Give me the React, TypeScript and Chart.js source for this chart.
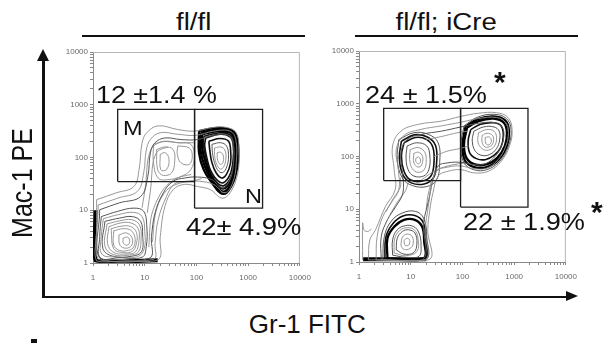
import React, { useEffect, useRef } from "react";
import { Chart, registerables } from "chart.js";

Chart.register(...registerables);

// ---------- axis ticks (log fluorescence) ----------
const DECADE_TICKS = [1, 10, 100, 1000, 10000];
const MINOR_MULTIPLIERS = [1, 2, 3, 4, 5, 6, 7, 8, 9];

// ---------- panel titles / axis titles ----------
const PANEL_TITLES = ["fl/fl", "fl/fl; iCre"];
const X_TITLE = "Gr-1 FITC";
const Y_TITLE = "Mac-1 PE";

// ---------- gates [xMin, yMin, xMax, yMax] in fluorescence units ----------
const P1_GATE_M = [3, 35, 92, 820];
const P1_GATE_N = [92, 11, 1900, 820];
const P2_GATE_M = [3, 35, 92, 820];
const P2_GATE_N = [92, 11, 1850, 820];

// ---------- gate percentages ----------
const P1_PCT_M = "12 ±1.4 %";
const P1_PCT_N = "42± 4.9%";
const P2_PCT_M = "24 ± 1.5%";
const P2_PCT_N = "22 ± 1.9%";
const GATE_NAMES = ["M", "N"];

// ---------- contour lines, as [log10 Gr-1, log10 Mac-1] ----------
// Panel 1 (fl/fl)
const P1_E1 = [[.07,1.2],[.45,1.33],[.79,1.45],[.89,1.77],[.95,2.28],[1.04,2.47],[1.26,2.6],[1.64,2.53],[1.96,2.5],[2.33,2.57],[2.58,2.57],[2.77,2.47],[2.82,2.15],[2.80,1.71],[2.65,1.33],[2.49,1.23],[2.27,1.39],[2.02,1.45],[1.77,1.49],[1.55,1.39],[1.39,1.07],[1.30,.50],[1.26,.06],[.64,.04],[.07,.04],[.07,.63]];
const P1_E2 = [[.10,1.10],[.48,1.23],[.86,1.36],[.98,1.71],[1.03,2.14],[1.11,2.34],[1.30,2.47],[1.64,2.44],[1.99,2.42],[2.33,2.50],[2.65,2.50],[2.76,2.34],[2.77,1.90],[2.70,1.52],[2.55,1.33],[2.33,1.49],[2.05,1.55],[1.80,1.55],[1.58,1.50],[1.42,1.26],[1.26,.82],[1.20,.37],[1.17,.07],[.10,.07]];
const P1_E3 = [[.13,1.01],[.51,1.14],[.92,1.26],[1.06,1.64],[1.11,2.09],[1.20,2.28],[1.39,2.37],[1.70,2.34],[2.02,2.34],[2.33,2.42],[2.62,2.42],[2.71,2.25],[2.71,1.83],[2.62,1.52],[2.49,1.42],[2.30,1.58],[2.02,1.63],[1.77,1.61],[1.55,1.55],[1.36,1.33],[1.20,.95],[1.13,.50],[1.09,.09],[.13,.09]];
const P1_S1 = [[.95,1.05],[1.02,1.5],[1.06,1.95],[1.15,2.2],[1.35,2.3],[1.65,2.28],[1.95,2.28]];
const P1_S2 = [[1.05,.95],[1.12,1.45],[1.16,1.9],[1.25,2.12],[1.45,2.2]];
const P1_S3 = [[1.15,.4],[1.2,.9],[1.3,1.2],[1.47,1.42],[1.7,1.52],[1.95,1.56],[2.1,1.6]];
const P1_S4 = [[1.08,.3],[1.12,.85],[1.22,1.15],[1.38,1.42],[1.6,1.6],[1.9,1.68]];
const P1_LA = [[.16,.88],[.48,.98],[.79,1.04],[.98,.98],[1.04,.69],[1.03,.31],[.95,.11],[.51,.10],[.14,.10],[.13,.50]];
const P1_LA2 = [[.2,.84],[.5,.92],[.78,.96],[.95,.88],[1.0,.6],[.99,.27],[.86,.12],[.45,.115],[.17,.17],[.16,.5]];
const P1_LB = [[.23,.79],[.51,.85],[.76,.88],[.92,.79],[.96,.53],[.94,.22],[.76,.13],[.38,.13],[.19,.28]];
const P1_LB2 = [[.27,.74],[.52,.80],[.75,.82],[.9,.72],[.93,.48],[.88,.21],[.7,.15],[.39,.16],[.23,.32]];
const P1_LC = [[.31,.69],[.54,.76],[.73,.76],[.87,.66],[.89,.43],[.82,.21],[.64,.17],[.40,.20],[.28,.37]];
const P1_LC2 = [[.35,.65],[.56,.7],[.73,.69],[.84,.58],[.84,.37],[.76,.22],[.57,.2],[.4,.27]];
const P1_LD = [[.40,.61],[.58,.65],[.73,.62],[.81,.49],[.79,.31],[.69,.24],[.51,.24],[.40,.34]];
const P1_LE = [[.50,.53],[.64,.57],[.75,.49],[.75,.34],[.64,.28],[.52,.34]];
const P1_LF = [[.58,.47],[.67,.49],[.71,.41],[.67,.34],[.59,.37]];
const P1_PILE = [[.05,1.0],[.05,.05],[1.25,.05]];
const P1_M1 = [[1.17,2.25],[1.39,2.31],[1.64,2.28],[1.89,2.25],[1.96,2.03],[1.89,1.77],[1.70,1.64],[1.45,1.58],[1.26,1.61],[1.17,1.90]];
const P1_M2 = [[1.23,2.15],[1.39,2.20],[1.55,2.15],[1.58,1.93],[1.52,1.71],[1.36,1.66],[1.25,1.77]];
const P1_M3 = [[1.64,2.22],[1.86,2.18],[1.92,2.03],[1.86,1.87],[1.70,1.90],[1.63,2.06]];
const P1_M4 = [[1.30,2.06],[1.40,2.09],[1.47,1.96],[1.42,1.77],[1.31,1.77]];
const P1_N1 = [[2.05,2.50],[2.40,2.56],[2.65,2.53],[2.77,2.41],[2.81,2.03],[2.74,1.61],[2.58,1.33],[2.46,1.33],[2.30,1.52],[2.14,1.77],[2.05,2.09]];
const P1_N1B = [[2.08,2.47],[2.41,2.53],[2.65,2.50],[2.76,2.38],[2.79,2.01],[2.72,1.62],[2.57,1.37],[2.44,1.39],[2.29,1.58],[2.16,1.83],[2.08,2.13]];
const P1_N2 = [[2.11,2.44],[2.43,2.50],[2.65,2.47],[2.74,2.34],[2.76,1.99],[2.70,1.64],[2.55,1.42],[2.43,1.45],[2.28,1.64],[2.18,1.90],[2.11,2.18]];
const P1_N2B = [[2.14,2.40],[2.44,2.47],[2.65,2.43],[2.73,2.30],[2.74,1.97],[2.68,1.66],[2.54,1.47],[2.41,1.51],[2.28,1.69],[2.2,1.93],[2.14,2.2]];
const P1_N3 = [[2.18,2.37],[2.46,2.44],[2.65,2.39],[2.71,2.25],[2.71,1.96],[2.65,1.68],[2.52,1.52],[2.40,1.57],[2.28,1.74],[2.21,1.96],[2.16,2.22]];
const P1_N4 = [[2.24,2.31],[2.46,2.36],[2.62,2.31],[2.66,2.15],[2.66,1.90],[2.58,1.68],[2.49,1.61],[2.38,1.71],[2.30,1.90],[2.26,2.12]];
const P1_N5 = [[2.30,2.25],[2.47,2.28],[2.58,2.22],[2.62,2.06],[2.60,1.87],[2.52,1.72],[2.43,1.74],[2.35,1.90],[2.31,2.09]];
const P1_N6 = [[2.35,2.18],[2.47,2.20],[2.55,2.14],[2.57,1.99],[2.53,1.83],[2.46,1.78],[2.38,1.90],[2.35,2.06]];
const P1_N7 = [[2.40,2.09],[2.47,2.10],[2.52,2.03],[2.51,1.90],[2.46,1.87],[2.41,1.95]];

// Panel 2 (fl/fl; iCre)
const P2_E1 = [[.18,.04],[.21,.42],[.32,.61],[.51,1.05],[.70,1.37],[.68,1.75],[.65,2.2],[.81,2.48],[1.15,2.61],[1.59,2.67],[1.97,2.76],[2.31,2.82],[2.66,2.83],[2.88,2.74],[2.96,2.51],[2.91,2.2],[2.75,1.91],[2.5,1.72],[2.22,1.69],[1.97,1.75],[1.72,1.72],[1.53,1.63],[1.43,1.31],[1.37,.99],[1.33,.61],[1.35,.04]];
const P2_E2 = [[.33,.04],[.35,.48],[.46,.86],[.62,1.12],[.77,1.37],[.76,1.75],[.72,2.13],[.87,2.40],[1.18,2.51],[1.59,2.58],[1.97,2.65],[2.31,2.72],[2.66,2.74],[2.84,2.64],[2.89,2.45],[2.84,2.20],[2.69,1.94],[2.47,1.78],[2.22,1.77],[1.97,1.82],[1.72,1.80],[1.50,1.72],[1.40,1.43],[1.34,1.05],[1.28,.61],[1.28,.04]];
const P2_E3 = [[.43,.04],[.43,.48],[.55,.80],[.71,1.05],[.85,1.31],[.84,1.69],[.81,2.07],[.93,2.32],[1.21,2.42],[1.59,2.48],[1.97,2.56],[2.31,2.63],[2.63,2.64],[2.77,2.55],[2.80,2.39],[2.74,2.17],[2.60,1.97],[2.41,1.85],[2.19,1.85],[1.97,1.89],[1.72,1.88],[1.53,1.82],[1.43,1.56],[1.35,1.18],[1.25,.74],[1.23,.04]];
const P2_S1 = [[.6,.9],[.75,1.15],[.9,1.35],[.95,1.5]];
const P2_S2 = [[1.3,1.0],[1.33,1.25],[1.38,1.45],[1.4,1.55]];
const P2_S3 = [[.52,.95],[.66,1.2],[.8,1.42],[.8,1.6]];
const P2_S4 = [[1.2,1.55],[1.5,1.75],[1.8,1.84],[2.05,1.88]];
const P2_S5 = [[1.3,2.32],[1.6,2.38],[1.9,2.45],[2.1,2.48]];
const P2_S6 = [[1.45,2.0],[1.7,2.1],[1.95,2.15],[2.12,2.2]];
const P2_OUT = [[.07,.04],[.07,.74],[.10,.60],[.17,.58],[.24,.62]];
const P2_LA = [[.46,.04],[.49,.48],[.62,.77],[.84,.93],[1.09,.96],[1.25,.83],[1.31,.48],[1.29,.04]];
const P2_LA2 = [[.5,.05],[.52,.47],[.65,.72],[.85,.87],[1.08,.88],[1.24,.75],[1.29,.44],[1.27,.05]];
const P2_LB = [[.55,.07],[.55,.45],[.68,.67],[.87,.80],[1.08,.80],[1.22,.67],[1.26,.39],[1.25,.07]];
const P2_LC = [[.65,.13],[.65,.42],[.74,.61],[.90,.69],[1.06,.67],[1.16,.55],[1.20,.32],[1.16,.11],[.90,.09]];
const P2_LC2 = [[.68,.17],[.69,.44],[.79,.6],[.93,.65],[1.07,.61],[1.14,.45],[1.12,.2],[.9,.12]];
const P2_LD = [[.72,.23],[.74,.45],[.84,.58],[.96,.61],[1.08,.55],[1.12,.36],[1.06,.18],[.87,.15]];
const P2_LE = [[.81,.32],[.84,.47],[.93,.53],[1.03,.48],[1.04,.32],[.95,.24],[.85,.25]];
const P2_LF = [[.87,.41],[.93,.45],[.98,.41],[.96,.32],[.89,.32]];
const P2_PILE = [[.08,.05],[1.3,.05]];
const P2_MA = [[.77,2.32],[1.06,2.45],[1.34,2.42],[1.53,2.26],[1.56,1.88],[1.50,1.56],[1.31,1.43],[1.03,1.45],[.84,1.59],[.74,1.94]];
const P2_MA2 = [[.82,2.29],[1.07,2.41],[1.32,2.37],[1.48,2.21],[1.5,1.88],[1.44,1.6],[1.26,1.48],[1.01,1.5],[.85,1.65],[.78,1.97]];
const P2_MB = [[.87,2.26],[1.09,2.36],[1.31,2.32],[1.43,2.17],[1.45,1.88],[1.39,1.63],[1.21,1.53],[.99,1.56],[.87,1.72],[.82,2.01]];
const P2_MC = [[.93,2.20],[1.12,2.26],[1.31,2.20],[1.37,2.01],[1.35,1.75],[1.25,1.63],[1.06,1.63],[.95,1.75],[.91,1.97]];
const P2_MD = [[.99,2.13],[1.14,2.17],[1.26,2.10],[1.30,1.94],[1.26,1.75],[1.14,1.70],[1.03,1.77],[.98,1.94]];
const P2_ME = [[1.06,2.06],[1.15,2.08],[1.23,2.00],[1.21,1.84],[1.14,1.80],[1.06,1.88]];
const P2_MF = [[1.10,1.97],[1.16,1.99],[1.19,1.91],[1.15,1.86],[1.10,1.90]];
const P2_NA = [[2.03,2.58],[2.28,2.74],[2.60,2.80],[2.85,2.72],[2.94,2.51],[2.89,2.20],[2.72,1.91],[2.47,1.75],[2.22,1.75],[2.03,1.88],[1.97,2.20]];
const P2_NA2 = [[2.06,2.57],[2.3,2.71],[2.6,2.76],[2.83,2.68],[2.9,2.48],[2.86,2.2],[2.7,1.94],[2.47,1.8],[2.23,1.8],[2.05,1.92],[2.0,2.21]];
const P2_NB = [[2.09,2.55],[2.31,2.67],[2.60,2.72],[2.80,2.64],[2.86,2.45],[2.82,2.20],[2.67,1.97],[2.46,1.85],[2.24,1.85],[2.08,1.97],[2.03,2.23]];
const P2_NC = [[2.16,2.51],[2.35,2.61],[2.60,2.64],[2.75,2.58],[2.79,2.39],[2.74,2.17],[2.61,2.02],[2.44,1.94],[2.27,1.96],[2.14,2.07],[2.11,2.29]];
const P2_ND = [[2.22,2.48],[2.41,2.56],[2.61,2.56],[2.71,2.48],[2.72,2.32],[2.66,2.15],[2.53,2.04],[2.38,2.02],[2.25,2.10],[2.19,2.29]];
const P2_NE = [[2.31,2.45],[2.47,2.51],[2.61,2.48],[2.66,2.36],[2.62,2.20],[2.50,2.12],[2.38,2.15],[2.30,2.27]];
const P2_NF = [[2.38,2.40],[2.48,2.44],[2.58,2.40],[2.60,2.29],[2.55,2.20],[2.44,2.18],[2.38,2.27]];
const P2_NG = [[2.44,2.36],[2.52,2.37],[2.56,2.29],[2.51,2.22],[2.45,2.25]];

// ---------- styling (kept apart from the data) ----------
const TONES: Record<string, { color: string; width: number }> = {
  light: { color: "#8c8c8c", width: 0.9 },
  mid: { color: "#555555", width: 1 },
  dark: { color: "#111111", width: 1.6 },
  heavy: { color: "#000000", width: 2.3 },
  pile: { color: "#000000", width: 4 },
};

type Layer = [number[][], string, boolean];

const P1_LAYERS: Layer[] = [
  [P1_E1, "light", true], [P1_E2, "light", true], [P1_E3, "mid", true],
  [P1_S1, "light", false], [P1_S2, "light", false], [P1_S3, "light", false], [P1_S4, "light", false],
  [P1_LA, "mid", true], [P1_LA2, "light", true], [P1_LB, "mid", true], [P1_LB2, "light", true],
  [P1_LC, "light", true], [P1_LC2, "light", true],
  [P1_LD, "light", true], [P1_LE, "light", true], [P1_LF, "light", true],
  [P1_PILE, "pile", false],
  [P1_M1, "light", true], [P1_M2, "light", true], [P1_M3, "light", true], [P1_M4, "light", true],
  [P1_N1, "heavy", true], [P1_N1B, "heavy", true], [P1_N2, "heavy", true], [P1_N2B, "dark", true],
  [P1_N3, "dark", true], [P1_N4, "dark", true], [P1_N5, "mid", true], [P1_N6, "light", true], [P1_N7, "light", true],
];

const P2_LAYERS: Layer[] = [
  [P2_E1, "light", true], [P2_E2, "light", true], [P2_E3, "mid", true],
  [P2_S1, "light", false], [P2_S2, "light", false], [P2_S3, "light", false],
  [P2_S4, "light", false], [P2_S5, "light", false], [P2_S6, "light", false],
  [P2_OUT, "light", false],
  [P2_LA, "mid", true], [P2_LA2, "dark", true], [P2_LB, "heavy", true], [P2_LC, "mid", true],
  [P2_LC2, "light", true], [P2_LD, "mid", true], [P2_LE, "light", true], [P2_LF, "light", true],
  [P2_PILE, "pile", false],
  [P2_MA, "mid", true], [P2_MA2, "dark", true], [P2_MB, "dark", true], [P2_MC, "mid", true],
  [P2_MD, "light", true], [P2_ME, "light", true], [P2_MF, "light", true],
  [P2_NA, "mid", true], [P2_NA2, "heavy", true], [P2_NB, "heavy", true], [P2_NC, "dark", true],
  [P2_ND, "mid", true], [P2_NE, "light", true], [P2_NF, "light", true], [P2_NG, "light", true],
];

const FONT = "'Liberation Sans', Arial, Helvetica, sans-serif";

const framePlugin = {
  id: "frame",
  afterDraw(chart: any) {
    const { ctx, chartArea: a } = chart;
    ctx.save();
    ctx.strokeStyle = "#b5b5b5";
    ctx.lineWidth = 1;
    ctx.beginPath();
    ctx.moveTo(a.left, a.top + 0.5);
    ctx.lineTo(a.right - 0.5, a.top + 0.5);
    ctx.lineTo(a.right - 0.5, a.bottom);
    ctx.stroke();
    ctx.restore();
  },
};

function allTicks() {
  const t: number[] = [];
  for (let d = 0; d < 4; d++) {
    for (const m of MINOR_MULTIPLIERS) t.push(m * DECADE_TICKS[d]);
  }
  t.push(DECADE_TICKS[4]);
  return t;
}

function logAxis(isX: boolean) {
  return {
    type: "logarithmic" as const,
    min: 1,
    max: 10000,
    afterBuildTicks: (s: any) => {
      s.ticks = allTicks().map((v) => ({ value: v }));
    },
    afterFit: (s: any) => {
      if (isX) s.height = 22;
      else s.width = 35;
    },
    ticks: {
      autoSkip: false,
      maxRotation: 0,
      padding: isX ? 7 : 2,
      color: "#6a6a6a",
      font: { family: FONT, size: 8 },
      callback: (v: any) => (DECADE_TICKS.includes(Number(v)) ? String(v) : ""),
    },
    grid: { drawOnChartArea: false, drawTicks: true, tickLength: 3, color: "#888" },
    border: { display: true, color: "#8a8a8a", width: 1 },
  };
}

function rect(g: number[]) {
  return [
    { x: g[0], y: g[1] }, { x: g[2], y: g[1] }, { x: g[2], y: g[3] },
    { x: g[0], y: g[3] }, { x: g[0], y: g[1] },
  ];
}

function FlowPanel({ layers, gates, box }: { layers: Layer[]; gates: number[][]; box: any }) {
  const ref = useRef<HTMLCanvasElement | null>(null);
  useEffect(() => {
    const datasets: any[] = [];
    gates.forEach((g) =>
      datasets.push({
        data: rect(g), showLine: true, borderColor: "#1e1e1e", borderWidth: 1.3,
        pointRadius: 0, tension: 0, order: 0,
      })
    );
    layers.forEach(([pts, tone, closed]) => {
      const st = TONES[tone];
      const seq = closed ? [...pts, pts[0]] : pts;
      datasets.push({
        data: seq.map((p) => ({ x: Math.pow(10, p[0]), y: Math.pow(10, p[1]) })),
        showLine: true, borderColor: st.color, borderWidth: st.width,
        pointRadius: 0, tension: closed ? 0.4 : 0.3, order: 1,
      });
    });
    const chart = new Chart(ref.current as HTMLCanvasElement, {
      type: "scatter",
      data: { datasets },
      options: {
        animation: false,
        responsive: false,
        maintainAspectRatio: false,
        layout: { padding: { top: 8, right: 12, left: 0, bottom: 0 } },
        plugins: { legend: { display: false }, tooltip: { enabled: false } },
        scales: { x: logAxis(true) as any, y: logAxis(false) as any },
      },
      plugins: [framePlugin],
    });
    return () => chart.destroy();
  }, []);
  return (
    <canvas
      ref={ref}
      width={box.w}
      height={box.h}
      style={{ position: "absolute", left: box.left, top: box.top, width: box.w, height: box.h }}
    />
  );
}

function Txt({ x, y, size, text, sx = 1, weight = "normal" }: any) {
  const top = y - 0.847 * size;
  return (
    <div style={{ position: "absolute", left: x, top, fontFamily: FONT, fontSize: size,
      lineHeight: `${size}px`, whiteSpace: "nowrap", color: "#111", fontWeight: weight,
      transform: `scaleX(${sx})`, transformOrigin: "left center" }}>{text}</div>
  );
}

function CenterTxt({ x, y, size, text, sx = 1 }: any) {
  const top = y - 0.847 * size;
  return (
    <div style={{ position: "absolute", left: x - 150, width: 300, top, textAlign: "center",
      fontFamily: FONT, fontSize: size, lineHeight: `${size}px`, whiteSpace: "nowrap", color: "#111" }}>
      <span style={{ display: "inline-block", transform: `scaleX(${sx})` }}>{text}</span>
    </div>
  );
}

export default function App() {
  const black = "#111";
  return (
    <div style={{ position: "absolute", left: 0, top: 0, width: 608, height: 345, background: "#fff", overflow: "hidden" }}>
      <CenterTxt x={194} y={30} size={23} sx={1.2} text={PANEL_TITLES[0]} />
      <CenterTxt x={446} y={30} size={23} sx={1.2} text={PANEL_TITLES[1]} />
      <div style={{ position: "absolute", left: 82, top: 35, width: 223, height: 2, background: black }} />
      <div style={{ position: "absolute", left: 355, top: 35, width: 223, height: 2, background: black }} />

      <FlowPanel layers={P1_LAYERS} gates={[P1_GATE_M, P1_GATE_N]} box={{ left: 58, top: 44, w: 260, h: 241 }} />
      <FlowPanel layers={P2_LAYERS} gates={[P2_GATE_M, P2_GATE_N]} box={{ left: 324, top: 43, w: 260, h: 241 }} />

      <Txt x={96} y={103} size={24} sx={1.12} text={P1_PCT_M} />
      <Txt x={123} y={135} size={21} sx={1.12} text={GATE_NAMES[0]} />
      <Txt x={245} y={203} size={21} sx={1.12} text={GATE_NAMES[1]} />
      <Txt x={186} y={235} size={24} sx={1.14} text={P1_PCT_N} />
      <Txt x={365} y={103} size={24} sx={1.13} text={P2_PCT_M} />
      <Txt x={494} y={92} size={30} weight="bold" text="*" />
      <Txt x={463} y={230} size={24} sx={1.13} text={P2_PCT_N} />
      <Txt x={591} y={222} size={30} weight="bold" text="*" />

      <div style={{ position: "absolute", left: 42, top: 60, width: 2.5, height: 238, background: black }} />
      <div style={{ position: "absolute", left: 37, top: 49, width: 0, height: 0,
        borderLeft: "6px solid transparent", borderRight: "6px solid transparent", borderBottom: `12px solid ${black}` }} />
      <div style={{ position: "absolute", left: 42, top: 295.5, width: 525, height: 2.5, background: black }} />
      <div style={{ position: "absolute", left: 566, top: 291, width: 0, height: 0,
        borderTop: "5.8px solid transparent", borderBottom: "5.8px solid transparent", borderLeft: `12px solid ${black}` }} />

      <CenterTxt x={307} y={333} size={25} sx={1.04} text={X_TITLE} />
      <div style={{ position: "absolute", left: 22, top: 183, transform: "translate(-50%,-50%) rotate(-90deg) scaleY(1.2)",
        fontFamily: FONT, fontSize: 25, lineHeight: "25px", whiteSpace: "nowrap", color: black }}>{Y_TITLE}</div>

      <div style={{ position: "absolute", left: 31, top: 339, width: 6, height: 4, background: black }} />
    </div>
  );
}
